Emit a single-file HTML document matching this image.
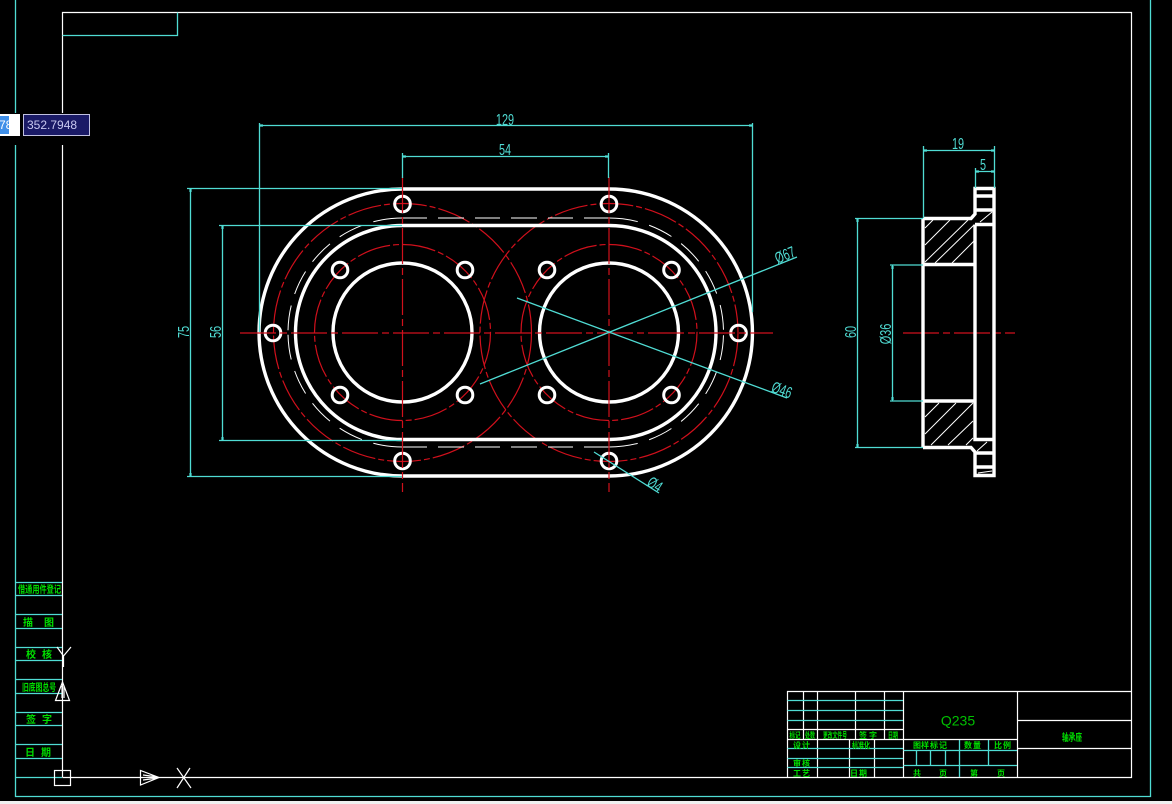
<!DOCTYPE html>
<html><head><meta charset="utf-8"><style>
html,body{margin:0;padding:0;background:#000;width:1172px;height:804px;overflow:hidden}
svg{display:block}
.c{stroke:#50dcd4;stroke-width:1.3;fill:none}
.a{stroke:#50dcd4;stroke-width:2.2;fill:none}
.w{stroke:#fff;stroke-width:1.2;fill:none}
.t{stroke:#fff;stroke-width:1;fill:none}
.W{stroke:#fff;stroke-width:3.4;fill:none}
.r{stroke:#d0101c;stroke-width:1.2;fill:none}
.ct{fill:#50dcd4;font-family:"Liberation Sans",sans-serif;font-size:16px;text-anchor:middle}
.g{fill:#00e000;font-family:"Liberation Sans","Noto Sans CJK SC",sans-serif;font-size:10px;text-anchor:middle;font-weight:bold}
.s{font-size:8px}
</style></head><body>
<svg width="1172" height="804" viewBox="0 0 1172 804" xmlns="http://www.w3.org/2000/svg">
<rect width="1172" height="804" fill="#000"/>
<rect y="801" width="1172" height="3" fill="#f0f0f0"/>
<!-- outer frame -->
<path class="c" d="M15.5 0V796.5H1150.5V0"/>
<path class="w" d="M62.5 777.5V12.5H1131.5V777.5H62.5"/>
<path class="c" d="M62.5 35.5H177.5V12.5"/>
<!-- left strip -->
<path class="c" d="M15.5 582.5H62M15.5 595.5H62M15.5 614.5H62M15.5 628.5H62M15.5 647.5H62M15.5 660.5H62M15.5 679.5H62M15.5 693.5H62M15.5 712.5H62M15.5 725.5H62M15.5 744.5H62M15.5 758.5H62M15.5 777.5H62"/>
<text class="g" x="39.5" y="593" textLength="43" lengthAdjust="spacingAndGlyphs">借通用件登记</text>
<text class="g" x="28 49" y="626">描图</text>
<text class="g" x="31 47" y="658">校核</text>
<text class="g" x="39" y="691" textLength="34" lengthAdjust="spacingAndGlyphs">旧底图总号</text>
<text class="g" x="31 47" y="723">签字</text>
<text class="g" x="30 46" y="756">日期</text>
<!-- UCS -->
<rect class="w" x="54.5" y="770.5" width="16" height="15"/>
<path class="w" d="M140.5 770.5V785L159 777.5Z M143 775L158 777M143 780L158 778"/>
<path class="w" d="M177 768L191 788M190 768L177 788"/>
<path class="w" d="M62.5 682L55.5 700.5H69.5Z M62 686V698M64 686V698"/>
<path class="w" d="M57 647L63.5 656L71 647M63.5 656V667"/>
<!-- title block -->
<path class="w" d="M787.5 777V691.5H1131.5M787.5 729.5H903M787.5 739.5H1017.5M803.5 691.5V739.5M817.5 691.5V777.5M855.5 691.5V739.5M884.5 691.5V739.5M849.5 739.5V777.5M874.5 739.5V777.5M903.5 691.5V777.5M1017.5 691.5V777.5M1017.5 720.5H1131.5M1017.5 748.5H1131.5"/>
<path class="c" d="M787.5 700.5H903M787.5 710.5H903M787.5 720.5H903M787.5 748.5H903M787.5 758.5H903M787.5 767.5H903M903.5 750.5H1017M903.5 765.5H1017M916.5 750.5V765.5M930.5 750.5V765.5M945.5 750.5V765.5M959.5 740V777M988.5 740V765.5"/>
<g class="g s">
<text x="795" y="738" textLength="11" lengthAdjust="spacingAndGlyphs">标记</text>
<text x="810" y="738" textLength="10" lengthAdjust="spacingAndGlyphs">处数</text>
<text x="835" y="738" textLength="24" lengthAdjust="spacingAndGlyphs">更改文件号</text>
<text x="863 873" y="738">签字</text>
<text x="893" y="738" textLength="10" lengthAdjust="spacingAndGlyphs">日期</text>
<text x="797 806" y="748">设计</text>
<text x="861" y="748" textLength="18" lengthAdjust="spacingAndGlyphs">标准化</text>
<text x="797 806" y="766">审核</text>
<text x="797 806" y="776">工艺</text>
<text x="854 863" y="776">日期</text>
<text x="917 925 934 943" y="748">图样标记</text>
<text x="968 977" y="748">数量</text>
<text x="998 1007" y="748">比例</text>
<text x="917" y="776">共</text><text x="943" y="776">页</text><text x="974" y="776">第</text><text x="1001" y="776">页</text>
</g>
<text class="g" x="1072" y="741" textLength="20" lengthAdjust="spacingAndGlyphs">轴承座</text>
<text x="958" y="725.5" style="font-family:'Liberation Sans',sans-serif;font-size:14px;text-anchor:middle;fill:#00c000">Q235</text>
<!-- red circles -->
<g class="r" stroke-dasharray="34 3 6 3">
<circle cx="402.5" cy="332.5" r="129"/><circle cx="609" cy="332.5" r="129"/>
<circle cx="402.5" cy="332.5" r="88"/><circle cx="609" cy="332.5" r="88"/>
</g>
<!-- dashed middle stadium -->
<g class="t" stroke-dasharray="54 12 25 12 25 12 25 12 25 12">
<path d="M427 218H402.5A114.5 114.5 0 0 0 288 332.5"/>
<path d="M427 447H402.5A114.5 114.5 0 0 1 288 332.5"/>
<path d="M584 218H609A114.5 114.5 0 0 1 723.5 332.5"/>
<path d="M584 447H609A114.5 114.5 0 0 0 723.5 332.5"/>
</g>
<path class="t" d="M438 218H464M475 218H500M511 218H537M548 218H573M438 447H464M475 447H500M511 447H537M548 447H573"/>
<!-- main outlines -->
<path class="W" d="M402.5 189H609A143.5 143.5 0 0 1 609 476H402.5A143.5 143.5 0 0 1 402.5 189Z"/>
<path class="W" d="M402.5 225.5H609A107 107 0 0 1 609 439.5H402.5A107 107 0 0 1 402.5 225.5Z"/>
<circle class="W" cx="402.5" cy="332.5" r="69.5"/><circle class="W" cx="609" cy="332.5" r="69.5"/>
<!-- holes -->
<g class="W" style="stroke-width:3">
<circle cx="402.5" cy="204" r="7.8"/><circle cx="609" cy="204" r="7.8"/><circle cx="402.5" cy="461" r="7.8"/><circle cx="609" cy="461" r="7.8"/><circle cx="273" cy="333" r="7.8"/><circle cx="738.5" cy="333" r="7.8"/>
<circle cx="340" cy="270" r="7.8"/><circle cx="465" cy="270" r="7.8"/><circle cx="340" cy="395" r="7.8"/><circle cx="465" cy="395" r="7.8"/>
<circle cx="547" cy="270" r="7.8"/><circle cx="671.5" cy="270" r="7.8"/><circle cx="547" cy="395" r="7.8"/><circle cx="671.5" cy="395" r="7.8"/>
</g>
<!-- center lines -->
<g class="r" stroke-dasharray="36 4 7 4">
<path d="M240 333H773"/><path d="M402.5 177V492"/><path d="M609 177V492"/><path d="M903 333H1015"/>
</g>
<!-- dims front -->
<path class="c" d="M259.5 123V332M752.5 123V312M259.5 125.5H752.5M402.5 153V178M608.5 153V178M402.5 156.5H608.5M187 188.5H402M190.5 188.5V476.5M187 476.5H402M219 225.5H402M222.5 225.5V440.5M219 440.5H402"/>
<path class="c" d="M480 384L797 257M517 298L787 398M594 452L659 493"/>
<path class="a" d="M260 125.5H263M749 125.5H752M403 156.5H406M605 156.5H608M190.5 189V192M190.5 473V476M222.5 226V229M222.5 437V440"/>
<text class="ct" transform="translate(505,125) scale(.68,1)">129</text>
<text class="ct" transform="translate(505,155) scale(.68,1)">54</text>
<text class="ct" transform="translate(189,332) rotate(-90) scale(.68,1)">75</text>
<text class="ct" transform="translate(221,332) rotate(-90) scale(.68,1)">56</text>
<text class="ct" transform="translate(787,260) rotate(-22) scale(.68,1)">Ø67</text>
<text class="ct" transform="translate(780,395) rotate(20) scale(.68,1)">Ø46</text>
<text class="ct" transform="translate(652,489) rotate(33) scale(.68,1)">Ø4</text>
<!-- side view -->
<path class="W" d="M923 218.5V447.5M923 218.5H971L975 214V188.5H994V475.5H975V452L971 447.5H923M975 224.5H994M975 224.5V439.5H994M923 264.5H975M923 401H975M975 196H994M975 210H994M975 453H994M975 467H994"/>
<path class="t" d="M925 228L933 220M925 245L950 220M925 262L968 220M935 263L974 225M952 263L974 241"/>
<path class="t" d="M925 417L939 403M925 434L956 403M931 445L973 403M948 445L973 421M966 445L973 438M977 451L987 442M980 222L992 212M978 473L992 471"/>
<path class="c" d="M923.5 146V218M994.5 146V188M923.5 150.5H994.5M975.5 168V188M975.5 171.5H994.5M855 218.5H923M857.5 218.5V447.5M855 447.5H923M890 265H923M892.5 265V401M890 401H923"/>
<path class="a" d="M924 150.5H927M991 150.5H994M976 171.5H979M991 171.5H994M857.5 219V222M857.5 444V447M892.5 266V269M892.5 397V400"/>
<text class="ct" transform="translate(958,149) scale(.68,1)">19</text>
<text class="ct" transform="translate(983,170) scale(.68,1)">5</text>
<text class="ct" transform="translate(856,332) rotate(-90) scale(.68,1)">60</text>
<text class="ct" transform="translate(891,334) rotate(-90) scale(.68,1)">Ø36</text>
<!-- popup -->
<rect x="0" y="113" width="100" height="32" fill="#000"/>
<rect x="0" y="114" width="20" height="22" fill="#fff"/>
<rect x="0" y="116" width="9" height="18" fill="#3f8fe8"/>
<text x="-1" y="129" style="font:12px 'Liberation Sans',sans-serif;fill:#fff">78</text>
<rect x="23.5" y="114.5" width="66" height="21" fill="#1a1a66" stroke="#c0c0e0"/>
<text x="27" y="129" style="font:12px 'Liberation Sans',sans-serif;fill:#c8c8f0">352.7948</text>
</svg>
</body></html>
